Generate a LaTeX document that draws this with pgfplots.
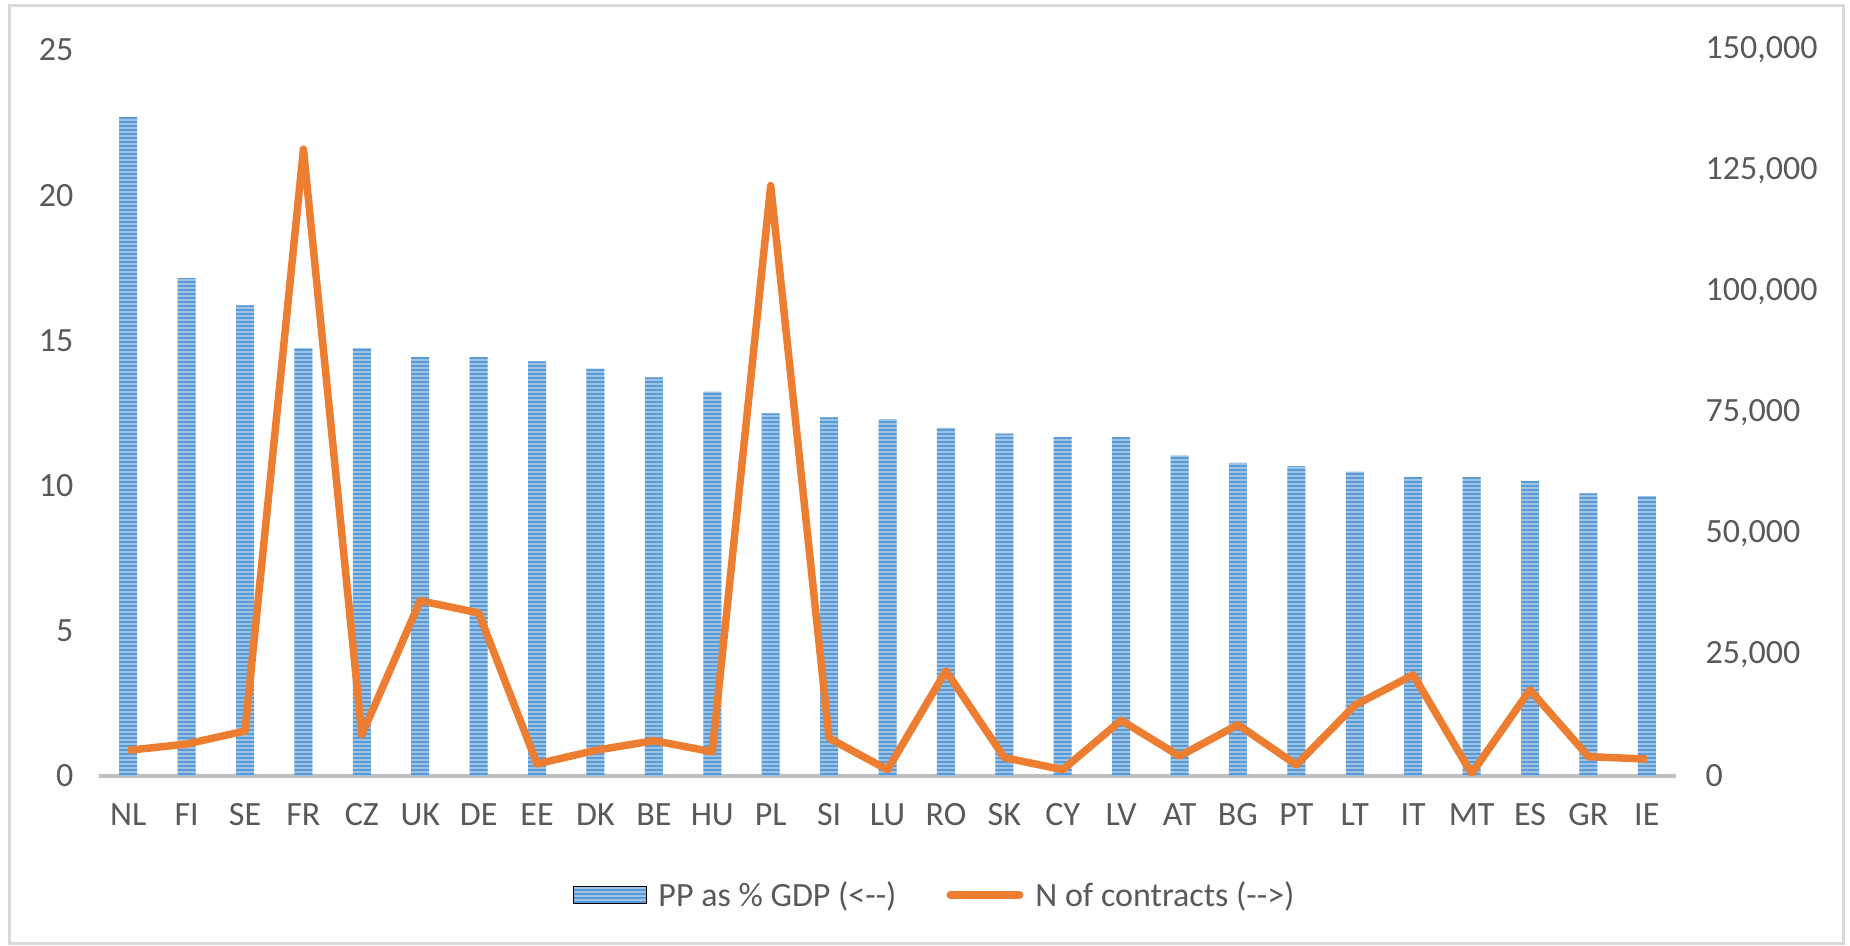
\documentclass[border=0pt]{standalone}
\usepackage{fontspec}
\setmainfont{Carlito}
\usepackage{pgfplots}
\usepackage{pgfplotstable}
\pgfplotsset{compat=1.18}
\usetikzlibrary{patterns.meta}

\definecolor{barblue}{HTML}{5B9BD5}
\definecolor{barlight}{HTML}{9DC3E6}
\definecolor{lineorange}{HTML}{ED7D31}
\definecolor{labelgray}{HTML}{595959}
\definecolor{axisgray}{HTML}{BFBFBF}
\definecolor{framegray}{HTML}{D9D9D9}

% PP as % of GDP (left axis) and number of contracts (right axis)
\pgfplotstableread{
i code pp    n
0  NL  22.70   5300
1  FI  17.14   6600
2  SE  16.21   9300
3  FR  14.73 129500
4  CZ  14.73   8500
5  UK  14.42  36200
6  DE  14.42  33700
7  EE  14.28   2500
8  DK  14.03   5300
9  BE  13.73   7300
10 HU  13.24   5000
11 PL  12.49 122000
12 SI  12.35   7800
13 LU  12.29   1300
14 RO  11.99  21700
15 SK  11.79   3800
16 CY  11.67   1300
17 LV  11.67  11500
18 AT  11.04   4100
19 BG  10.78  10600
20 PT  10.66   2300
21 LT  10.48  14600
22 IT  10.29  20900
23 MT  10.29    500
24 ES  10.16  17800
25 GR   9.73   4000
26 IE   9.64   3500
}\data

\pgfplotsset{
  every axis/.append style={
    scale only axis, width=788.5pt, height=363pt,
    at={(49.5pt,85pt)}, anchor=south west,
    xmin=-0.5, xmax=26.5,
    major tick length=0pt,
    /pgf/number format/assume math mode=true,
    tick label style={font=\fontsize{17}{20}\selectfont, text=labelgray},
  },
}

\begin{document}
\begin{tikzpicture}
\useasboundingbox (0,0) rectangle (925pt,473pt);
\draw[framegray, line width=1.5pt] (4.5pt,1pt) rectangle (921.5pt,470pt);

\begin{axis}[
  ymin=0, ymax=25, ytick={0,5,...,25},
  xtick=data,
  xticklabels from table={\data}{code},
  axis x line*=bottom, axis y line*=left,
  x axis line style={draw=axisgray, line width=2pt, -},
  y axis line style={draw=none},
  yticklabel style={xshift=-9.3pt},
  xticklabel style={yshift=-10.4pt},
]
\addplot[ybar, bar width=9pt, draw=none, fill=barlight,
  postaction={pattern={Lines[angle=0,distance=2pt,line width=1.15pt]}, pattern color=barblue}]
  table[x=i, y=pp] {\data};
\end{axis}

\begin{axis}[
  ymin=0, ymax=150000, ytick={0,25000,...,150000},
  scaled y ticks=false,
  /pgf/number format/fixed,
  /pgf/number format/1000 sep={,},
  hide x axis,
  axis y line*=right,
  y axis line style={draw=none},
  yticklabel style={xshift=11.3pt},
  legend columns=2,
  legend style={at={(0.5305,-0.164)}, anchor=center, draw=none, fill=none,
    font=\fontsize{17}{20}\selectfont, text=labelgray,
    /tikz/every odd column/.append style={column sep=4pt},
    /tikz/every even column/.append style={column sep=23pt}},
]
\addlegendimage{legend image code/.code={
  \fill[barlight] (0pt,-4.4pt) rectangle (36.5pt,4.4pt);
  \fill[pattern={Lines[angle=0,distance=2pt,line width=1.15pt]}, pattern color=barblue]
    (0pt,-4.4pt) rectangle (36.5pt,4.4pt);}}
\addlegendentry{PP as \% GDP (<-\kern0pt-)}
\addplot[lineorange, line width=3.75pt, line join=round,
  legend image code/.code={\draw[lineorange, line width=3.75pt, line cap=round] (1.9pt,0pt) -- (36.6pt,0pt);}]
  table[x=i, y=n] {\data};
\addlegendentry{N of contracts (-\kern0pt->)}
\end{axis}
\end{tikzpicture}
\end{document}
